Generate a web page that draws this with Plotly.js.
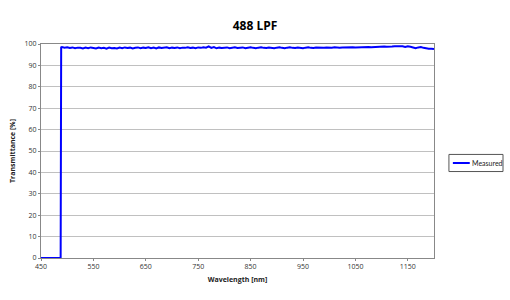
<!DOCTYPE html>
<html>
<head>
<meta charset="utf-8">
<script src="https://cdn.plot.ly/plotly-3.0.1.min.js"></script>
<style>html,body{margin:0;padding:0;background:#fff;}#chart{width:510px;height:300px;}</style>
</head>
<body>
<div id="chart"></div>
<script>
// Blocking region (0 %) and the edge
var edgeWavelengths = [450, 470, 487.5, 488.5];
var edgeValues = [0, 0, 0, 98.4];

// Passband sampled every 5 nm from 490 to 1200 nm
var passStart = 490;
var passStep = 5;
var passValues = [
  98.6, 98.3, 98.5, 98.1, 98.4, 98.0, 98.3, 98.2, 97.9, 98.3, 98.0, 98.4, 98.1, 97.9, 98.3, 98.0, 98.2, 97.8, 98.3, 98.0, 98.1, 97.9, 98.3,
  98.0, 98.4, 98.1, 98.3, 97.9, 98.2, 98.4, 98.0, 98.3, 98.1, 98.5, 98.0, 98.3, 97.9, 98.4, 98.1, 98.2, 98.5, 98.0, 98.3,
  98.1, 98.4, 98.0, 98.3, 98.2, 98.5, 98.1, 98.3, 98.0, 98.4, 98.2, 98.5, 98.3, 98.9, 98.2, 98.6, 98.0, 98.3, 98.1, 98.2,
  98.4, 98.0, 98.3, 98.5, 98.1, 98.2, 98.4, 98.0, 98.3, 98.5, 98.2, 98.0, 98.3, 98.5, 98.2, 98.1, 98.4, 98.2, 98.0, 98.3,
  98.5, 98.2, 98.0, 98.3, 98.5, 98.2, 98.1, 98.4, 98.2, 98.0, 98.3, 98.5, 98.2, 98.1, 98.4, 98.3, 98.1, 98.3, 98.4, 98.2,
  98.3, 98.5, 98.3, 98.2, 98.4, 98.5, 98.3, 98.4, 98.5, 98.4, 98.5, 98.6, 98.4, 98.5, 98.6, 98.5, 98.6, 98.7, 98.6, 98.7,
  98.8, 98.7, 98.9, 98.8, 98.9, 99.0, 98.8, 98.9, 98.6, 98.9, 98.7, 98.2, 98.0, 98.4, 98.6, 98.2, 97.9, 97.8, 97.8, 97.7
];

var seriesName = 'Measured';
var xTickVals = [450, 550, 650, 750, 850, 950, 1050, 1150];
var yTickVals = [0, 10, 20, 30, 40, 50, 60, 70, 80, 90, 100];

var wl = edgeWavelengths.slice();
var tr = edgeValues.slice();
for (var i = 0; i < passValues.length; i++) {
  wl.push(passStart + i * passStep);
  tr.push(passValues[i]);
}

var fontFam = 'Open Sans, Liberation Sans, sans-serif';
var legendFam = 'Lato, Open Sans, sans-serif';
var lineColor = '#0000ff';

var trace = {
  x: wl, y: tr, type: 'scatter', mode: 'lines', name: seriesName,
  line: {color: lineColor, width: 2}
};

var layout = {
  width: 510, height: 300,
  margin: {l: 41, r: 76, t: 44, b: 42},
  paper_bgcolor: '#ffffff', plot_bgcolor: '#ffffff',
  title: {text: '<b>488 LPF</b>', x: 0.5, xanchor: 'center', y: 0.915, yanchor: 'middle',
          font: {family: fontFam, size: 12, color: '#000'}},
  xaxis: {
    range: [450, 1200], tickvals: xTickVals, ticktext: xTickVals.map(String),
    showgrid: false, zeroline: false,
    showline: true, linecolor: '#888', linewidth: 1, mirror: true,
    ticks: 'outside', ticklen: 2, tickcolor: '#888',
    tickfont: {family: fontFam, size: 7, color: '#333'},
    title: {text: '<b>Wavelength [nm]</b>', font: {family: fontFam, size: 7, color: '#222'}, standoff: 6}
  },
  yaxis: {
    range: [0, 100], tickvals: yTickVals,
    showgrid: true, gridcolor: '#c0c0c0', gridwidth: 1, zeroline: false,
    showline: true, linecolor: '#888', linewidth: 1, mirror: true,
    ticks: 'outside', ticklen: 2, tickcolor: '#888',
    tickfont: {family: fontFam, size: 7, color: '#333'},
    title: {text: '<b>Transmittance [%]</b>', font: {family: fontFam, size: 7, color: '#222'}, standoff: 8}
  },
  showlegend: false,
  shapes: [
    {type: 'rect', xref: 'paper', yref: 'paper', x0: 1.038, x1: 1.1756, y0: 0.404, y1: 0.484,
     line: {color: '#555', width: 1}, fillcolor: 'rgba(255,255,255,0)', layer: 'above'},
    {type: 'line', xref: 'paper', yref: 'paper', x0: 1.048, x1: 1.091, y0: 0.444, y1: 0.444,
     line: {color: lineColor, width: 2}, layer: 'above'}
  ],
  annotations: [
    {text: seriesName, xref: 'paper', yref: 'paper', x: 1.092, y: 0.444, xanchor: 'left', yanchor: 'middle',
     showarrow: false, font: {family: legendFam, size: 7, color: '#222'}}
  ]
};

Plotly.newPlot('chart', [trace], layout, {displayModeBar: false, staticPlot: true});
</script>
</body>
</html>
